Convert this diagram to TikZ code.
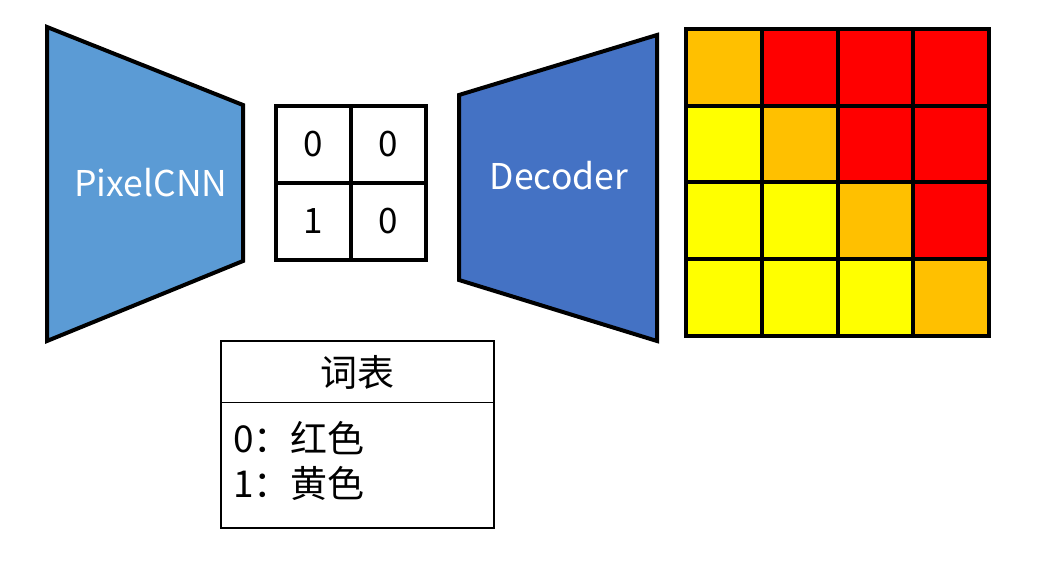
\documentclass[tikz,border=0pt]{standalone}
\usepackage{fontspec}
\setmainfont{Noto Sans CJK SC}
\newfontfamily\cjk{Noto Sans CJK SC}
\definecolor{pcnn}{HTML}{5B9BD5}
\definecolor{dec}{HTML}{4472C4}
\definecolor{cor}{HTML}{FFC000}
\definecolor{cre}{HTML}{FF0000}
\definecolor{cye}{HTML}{FFFF00}
\begin{document}
\begin{tikzpicture}[x=1pt,y=-1pt,
  blockshape/.style={draw=black,line width=4pt,line join=miter},
  cellbox/.style={draw=black,line width=4pt,minimum width=76pt,minimum height=77pt,inner sep=0pt,anchor=north west},
  codecell/.style={draw=black,line width=4pt,minimum width=75pt,minimum height=77pt,inner sep=0pt,anchor=north west,font=\fontsize{35}{38}\selectfont},
  labeltext/.style={text=white,font=\fontsize{35.5}{38}\selectfont},
  tabletext/.style={font=\fontsize{37}{40}\selectfont,inner sep=0pt}]
\useasboundingbox (0,0) rectangle (1038,564);
% PixelCNN
\draw[blockshape,fill=pcnn] (47,27) -- (243,105) -- (243,261) -- (47,341) -- cycle;
\node[labeltext] (pixelcnn) at (151,183) {PixelCNN};
% code grid
\node[codecell] (c00) at (273.5,104) {0};
\node[codecell] (c01) at (348.5,104) {0};
\node[codecell] (c10) at (273.5,181) {1};
\node[codecell] (c11) at (348.5,181) {0};
% Decoder
\draw[blockshape,fill=dec] (459,95) -- (657,35) -- (657,341) -- (459,280) -- cycle;
\node[labeltext] (decoder) at (559,176) {Decoder};
% colour grid
\foreach \r/\row in {0/{cor,cre,cre,cre},1/{cye,cor,cre,cre},2/{cye,cye,cor,cre},3/{cye,cye,cye,cor}}{
  \foreach \c [count=\i from 0] in \row {
    \node[cellbox,fill=\c] (g\r\i) at (684+75.75*\i,27+76.75*\r) {};
  }
}
% vocabulary table
\draw[line width=1.3pt] (221,341) rectangle (494,528);
\draw[line width=0.8pt] (221,402) -- (494,402);
\node[tabletext] (title) at (357.5,372) {词表};
\node[tabletext,anchor=west] (row0) at (233,438) {0：红色};
\node[tabletext,anchor=west] (row1) at (233,483) {1：黄色};
\end{tikzpicture}
\end{document}
